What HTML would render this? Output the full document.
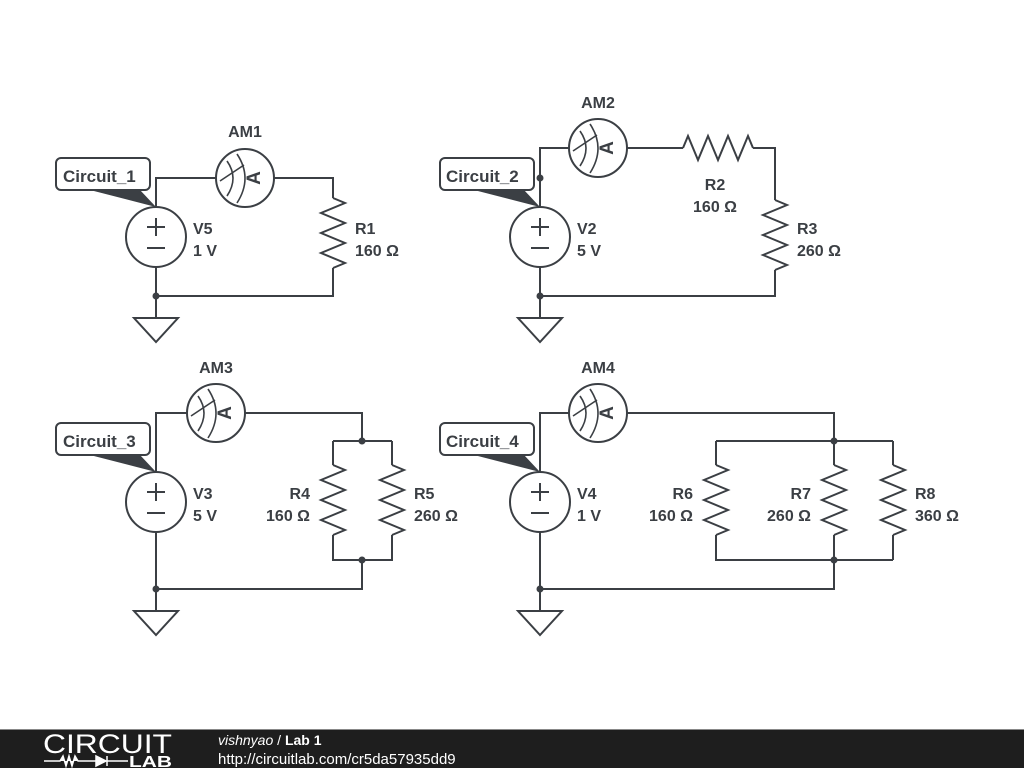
<!DOCTYPE html>
<html><head><meta charset="utf-8"><style>
html,body{margin:0;padding:0;background:#fff;width:1024px;height:768px;overflow:hidden}
svg{display:block}
text{font-family:"Liberation Sans",sans-serif;font-weight:bold;font-size:16px;fill:#3b3f44}
</style></head><body>
<svg width="1024" height="768" viewBox="0 0 1024 768">
<defs>
<g id="src"><circle cx="0" cy="0" r="30" fill="#fff" stroke="#3b3f44" stroke-width="2"/>
<path d="M-9,-10h18M0,-19v18M-9,11h18" stroke="#3b3f44" stroke-width="2" fill="none"/></g>
<g id="am"><circle cx="0" cy="0" r="29" fill="#fff" stroke="#3b3f44" stroke-width="2"/>
<path d="M-18,-17 Q-6,0 -18,18 M-8,-24 Q8,0 -8,25 M-25,3 L-1,-13" stroke="#3b3f44" stroke-width="1.6" fill="none"/>
<text transform="translate(15,0) rotate(-90)" text-anchor="middle" style="font-size:19px">A</text></g>
<g id="gnd"><path d="M0,0 V22 M-22,22 H22 L0,46 Z" stroke="#3b3f44" stroke-width="2" fill="#fff"/></g>
<path id="rv" d="M0,0 L12,5 L-12,15 L12,25 L-12,35 L12,45 L-12,55 L12,65 L0,70" stroke="#3b3f44" stroke-width="2" fill="none"/>
</defs>
<g stroke="#3b3f44" stroke-width="2" fill="none">
<path d="M156,207V178H216M274,178H333V198M333,268V296H156V267"/>
<path d="M540,207V148H569M627,148H683M753,148H775V200M775,270V296H540V267"/>
<path d="M156,472V413H187M245,413H362V441M333,441H392M333,441V465M333,535V560H392V535M392,465V441M362,560V589H156V532"/>
<path d="M540,472V413H569M627,413H834V441M716,441H893M716,441V465M834,441V465M893,441V465M716,535V560H893M834,535V560M893,535V560M834,560V589H540V532"/>
</g>
<use href="#rv" x="333" y="198"/>
<use href="#rv" x="775" y="200"/>
<use href="#rv" transform="translate(683,148) rotate(-90)"/>
<use href="#rv" x="333" y="465"/><use href="#rv" x="392" y="465"/>
<use href="#rv" x="716" y="465"/><use href="#rv" x="834" y="465"/><use href="#rv" x="893" y="465"/>
<use href="#src" x="156" y="237"/><use href="#src" x="540" y="237"/>
<use href="#src" x="156" y="502"/><use href="#src" x="540" y="502"/>
<use href="#am" x="245" y="178"/><use href="#am" x="598" y="148"/>
<use href="#am" x="216" y="413"/><use href="#am" x="598" y="413"/>
<use href="#gnd" x="156" y="296"/><use href="#gnd" x="540" y="296"/>
<use href="#gnd" x="156" y="589"/><use href="#gnd" x="540" y="589"/>
<g fill="#3b3f44">
<circle cx="156" cy="296" r="3.5"/><circle cx="540" cy="296" r="3.5"/><circle cx="540" cy="178" r="3.5"/>
<circle cx="156" cy="589" r="3.5"/><circle cx="540" cy="589" r="3.5"/>
<circle cx="362" cy="441" r="3.5"/><circle cx="362" cy="560" r="3.5"/>
<circle cx="834" cy="441" r="3.5"/><circle cx="834" cy="560" r="3.5"/>
</g>
<g>
<path d="M90,190 L156,207 L140,190 Z" fill="#3b3f44"/>
<rect x="56" y="158" width="94" height="32" rx="5" fill="#fff" stroke="#3b3f44" stroke-width="2"/>
<text x="63" y="182" style="font-size:17px">Circuit_1</text>
<path d="M474,190 L540,207 L524,190 Z" fill="#3b3f44"/>
<rect x="440" y="158" width="94" height="32" rx="5" fill="#fff" stroke="#3b3f44" stroke-width="2"/>
<text x="446" y="182" style="font-size:17px">Circuit_2</text>
<path d="M90,455 L156,472 L140,455 Z" fill="#3b3f44"/>
<rect x="56" y="423" width="94" height="32" rx="5" fill="#fff" stroke="#3b3f44" stroke-width="2"/>
<text x="63" y="447" style="font-size:17px">Circuit_3</text>
<path d="M474,455 L540,472 L524,455 Z" fill="#3b3f44"/>
<rect x="440" y="423" width="94" height="32" rx="5" fill="#fff" stroke="#3b3f44" stroke-width="2"/>
<text x="446" y="447" style="font-size:17px">Circuit_4</text>
</g>
<text x="245" y="137" text-anchor="middle">AM1</text>
<text x="598" y="108" text-anchor="middle">AM2</text>
<text x="216" y="373" text-anchor="middle">AM3</text>
<text x="598" y="373" text-anchor="middle">AM4</text>
<text x="193" y="234">V5</text><text x="193" y="256">1 V</text>
<text x="355" y="234">R1</text><text x="355" y="256">160 Ω</text>
<text x="577" y="234">V2</text><text x="577" y="256">5 V</text>
<text x="715" y="190" text-anchor="middle">R2</text><text x="715" y="212" text-anchor="middle">160 Ω</text>
<text x="797" y="234">R3</text><text x="797" y="256">260 Ω</text>
<text x="193" y="499">V3</text><text x="193" y="521">5 V</text>
<text x="310" y="499" text-anchor="end">R4</text><text x="310" y="521" text-anchor="end">160 Ω</text>
<text x="414" y="499">R5</text><text x="414" y="521">260 Ω</text>
<text x="577" y="499">V4</text><text x="577" y="521">1 V</text>
<text x="693" y="499" text-anchor="end">R6</text><text x="693" y="521" text-anchor="end">160 Ω</text>
<text x="811" y="499" text-anchor="end">R7</text><text x="811" y="521" text-anchor="end">260 Ω</text>
<text x="915" y="499">R8</text><text x="915" y="521">360 Ω</text>
<rect x="0" y="729" width="1024" height="39" fill="#1e1e1e"/>
<rect x="0" y="729" width="1024" height="1" fill="#888"/>
<text x="43" y="753" textLength="129" lengthAdjust="spacingAndGlyphs" style="font-weight:normal;font-size:27px;fill:#fff">CIRCUIT</text>
<path d="M44,761 H60 L63,756 L66,766 L69,756 L72,766 L75,756 L78,761 H96 M96,756 V766 L106,761 Z M107,756 V766 M107,761 H128" stroke="#fff" stroke-width="1.5" fill="#fff"/>
<text x="129" y="767" textLength="43" lengthAdjust="spacingAndGlyphs" style="font-size:16px;fill:#fff">LAB</text>
<text x="218" y="745" style="font-size:14px;fill:#fff"><tspan style="font-style:italic;font-weight:normal">vishnyao</tspan><tspan style="font-weight:normal"> / </tspan>Lab 1</text>
<text x="218" y="764" style="font-size:15px;fill:#fff;font-weight:normal">http://circuitlab.com/cr5da57935dd9</text>
</svg>
</body></html>
